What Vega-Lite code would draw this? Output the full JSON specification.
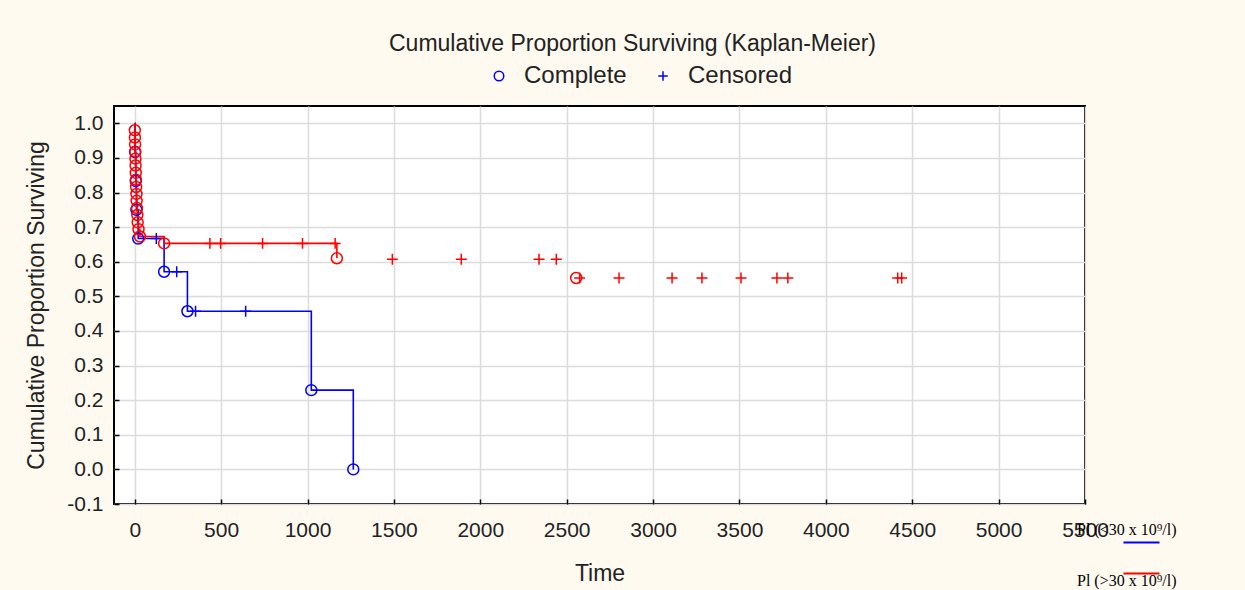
{
  "$schema": "https://vega.github.io/schema/vega-lite/v6.json",
  "width": 971,
  "height": 398,
  "autosize": "none",
  "padding": {"left": 114, "top": 106, "right": 160, "bottom": 86},
  "background": "#fffaf0",
  "config": {
    "font": "Liberation Sans",
    "view": {"stroke": "#000000", "strokeWidth": 2, "fill": "#ffffff"},
    "axis": {"domain": false, "grid": true, "gridColor": "#dcdcdc", "gridWidth": 1.5, "tickColor": "#000000", "tickSize": -5, "tickWidth": 1.5, "labelFont": "Liberation Sans", "labelFontSize": 21, "labelColor": "#222222", "titleFont": "Liberation Sans", "titleFontSize": 23, "titleFontWeight": "normal", "titleColor": "#222222"}
  },
  "title": {"text": "Cumulative Proportion Surviving (Kaplan-Meier)", "font": "Liberation Sans", "fontSize": 23, "fontWeight": "normal", "color": "#222222", "dx": 33, "offset": 8},
  "datasets": {
    "steps": [
      {"group": "Pl (<30 x 10⁹/l)", "time": 0, "surv": 1.0},
      {"group": "Pl (<30 x 10⁹/l)", "time": 2, "surv": 0.917},
      {"group": "Pl (<30 x 10⁹/l)", "time": 6, "surv": 0.833},
      {"group": "Pl (<30 x 10⁹/l)", "time": 10, "surv": 0.75},
      {"group": "Pl (<30 x 10⁹/l)", "time": 20, "surv": 0.667},
      {"group": "Pl (<30 x 10⁹/l)", "time": 170, "surv": 0.571},
      {"group": "Pl (<30 x 10⁹/l)", "time": 305, "surv": 0.457},
      {"group": "Pl (<30 x 10⁹/l)", "time": 1022, "surv": 0.229},
      {"group": "Pl (<30 x 10⁹/l)", "time": 1265, "surv": 0.0},
      {"group": "Pl (>30 x 10⁹/l)", "time": 0, "surv": 1.0},
      {"group": "Pl (>30 x 10⁹/l)", "time": 0.5, "surv": 0.98},
      {"group": "Pl (>30 x 10⁹/l)", "time": 1, "surv": 0.959},
      {"group": "Pl (>30 x 10⁹/l)", "time": 2, "surv": 0.939},
      {"group": "Pl (>30 x 10⁹/l)", "time": 3, "surv": 0.918},
      {"group": "Pl (>30 x 10⁹/l)", "time": 4, "surv": 0.898},
      {"group": "Pl (>30 x 10⁹/l)", "time": 5, "surv": 0.878},
      {"group": "Pl (>30 x 10⁹/l)", "time": 6, "surv": 0.857},
      {"group": "Pl (>30 x 10⁹/l)", "time": 7, "surv": 0.837},
      {"group": "Pl (>30 x 10⁹/l)", "time": 8, "surv": 0.816},
      {"group": "Pl (>30 x 10⁹/l)", "time": 10, "surv": 0.796},
      {"group": "Pl (>30 x 10⁹/l)", "time": 11, "surv": 0.776},
      {"group": "Pl (>30 x 10⁹/l)", "time": 13, "surv": 0.755},
      {"group": "Pl (>30 x 10⁹/l)", "time": 15, "surv": 0.735},
      {"group": "Pl (>30 x 10⁹/l)", "time": 17, "surv": 0.714},
      {"group": "Pl (>30 x 10⁹/l)", "time": 22, "surv": 0.694},
      {"group": "Pl (>30 x 10⁹/l)", "time": 30, "surv": 0.673},
      {"group": "Pl (>30 x 10⁹/l)", "time": 170, "surv": 0.653},
      {"group": "Pl (>30 x 10⁹/l)", "time": 1170, "surv": 0.61}
    ],
    "points": [
      {"group": "Pl (<30 x 10⁹/l)", "status": "Complete", "time": 2, "surv": 0.917},
      {"group": "Pl (<30 x 10⁹/l)", "status": "Complete", "time": 6, "surv": 0.833},
      {"group": "Pl (<30 x 10⁹/l)", "status": "Complete", "time": 10, "surv": 0.75},
      {"group": "Pl (<30 x 10⁹/l)", "status": "Complete", "time": 20, "surv": 0.667},
      {"group": "Pl (<30 x 10⁹/l)", "status": "Censored", "time": 125, "surv": 0.667},
      {"group": "Pl (<30 x 10⁹/l)", "status": "Complete", "time": 170, "surv": 0.571},
      {"group": "Pl (<30 x 10⁹/l)", "status": "Censored", "time": 243, "surv": 0.571},
      {"group": "Pl (<30 x 10⁹/l)", "status": "Complete", "time": 305, "surv": 0.457},
      {"group": "Pl (<30 x 10⁹/l)", "status": "Censored", "time": 352, "surv": 0.457},
      {"group": "Pl (<30 x 10⁹/l)", "status": "Censored", "time": 642, "surv": 0.457},
      {"group": "Pl (<30 x 10⁹/l)", "status": "Complete", "time": 1022, "surv": 0.229},
      {"group": "Pl (<30 x 10⁹/l)", "status": "Complete", "time": 1265, "surv": 0.0},
      {"group": "Pl (>30 x 10⁹/l)", "status": "Complete", "time": 0.5, "surv": 0.98},
      {"group": "Pl (>30 x 10⁹/l)", "status": "Complete", "time": 1, "surv": 0.959},
      {"group": "Pl (>30 x 10⁹/l)", "status": "Complete", "time": 2, "surv": 0.939},
      {"group": "Pl (>30 x 10⁹/l)", "status": "Complete", "time": 3, "surv": 0.918},
      {"group": "Pl (>30 x 10⁹/l)", "status": "Complete", "time": 4, "surv": 0.898},
      {"group": "Pl (>30 x 10⁹/l)", "status": "Complete", "time": 5, "surv": 0.878},
      {"group": "Pl (>30 x 10⁹/l)", "status": "Complete", "time": 6, "surv": 0.857},
      {"group": "Pl (>30 x 10⁹/l)", "status": "Complete", "time": 7, "surv": 0.837},
      {"group": "Pl (>30 x 10⁹/l)", "status": "Complete", "time": 8, "surv": 0.816},
      {"group": "Pl (>30 x 10⁹/l)", "status": "Complete", "time": 10, "surv": 0.796},
      {"group": "Pl (>30 x 10⁹/l)", "status": "Complete", "time": 11, "surv": 0.776},
      {"group": "Pl (>30 x 10⁹/l)", "status": "Complete", "time": 13, "surv": 0.755},
      {"group": "Pl (>30 x 10⁹/l)", "status": "Complete", "time": 15, "surv": 0.735},
      {"group": "Pl (>30 x 10⁹/l)", "status": "Complete", "time": 17, "surv": 0.714},
      {"group": "Pl (>30 x 10⁹/l)", "status": "Complete", "time": 22, "surv": 0.694},
      {"group": "Pl (>30 x 10⁹/l)", "status": "Complete", "time": 30, "surv": 0.673},
      {"group": "Pl (>30 x 10⁹/l)", "status": "Complete", "time": 170, "surv": 0.653},
      {"group": "Pl (>30 x 10⁹/l)", "status": "Censored", "time": 435, "surv": 0.653},
      {"group": "Pl (>30 x 10⁹/l)", "status": "Censored", "time": 497, "surv": 0.653},
      {"group": "Pl (>30 x 10⁹/l)", "status": "Censored", "time": 740, "surv": 0.653},
      {"group": "Pl (>30 x 10⁹/l)", "status": "Censored", "time": 971, "surv": 0.653},
      {"group": "Pl (>30 x 10⁹/l)", "status": "Censored", "time": 1160, "surv": 0.653},
      {"group": "Pl (>30 x 10⁹/l)", "status": "Complete", "time": 1170, "surv": 0.61},
      {"group": "Pl (>30 x 10⁹/l)", "status": "Censored", "time": 1491, "surv": 0.607},
      {"group": "Pl (>30 x 10⁹/l)", "status": "Censored", "time": 1890, "surv": 0.607},
      {"group": "Pl (>30 x 10⁹/l)", "status": "Censored", "time": 2340, "surv": 0.607},
      {"group": "Pl (>30 x 10⁹/l)", "status": "Censored", "time": 2440, "surv": 0.607},
      {"group": "Pl (>30 x 10⁹/l)", "status": "Complete", "time": 2555, "surv": 0.553},
      {"group": "Pl (>30 x 10⁹/l)", "status": "Censored", "time": 2575, "surv": 0.553},
      {"group": "Pl (>30 x 10⁹/l)", "status": "Censored", "time": 2803, "surv": 0.553},
      {"group": "Pl (>30 x 10⁹/l)", "status": "Censored", "time": 3110, "surv": 0.553},
      {"group": "Pl (>30 x 10⁹/l)", "status": "Censored", "time": 3283, "surv": 0.553},
      {"group": "Pl (>30 x 10⁹/l)", "status": "Censored", "time": 3509, "surv": 0.553},
      {"group": "Pl (>30 x 10⁹/l)", "status": "Censored", "time": 3717, "surv": 0.553},
      {"group": "Pl (>30 x 10⁹/l)", "status": "Censored", "time": 3780, "surv": 0.553},
      {"group": "Pl (>30 x 10⁹/l)", "status": "Censored", "time": 4416, "surv": 0.553},
      {"group": "Pl (>30 x 10⁹/l)", "status": "Censored", "time": 4439, "surv": 0.553}
    ]
  },
  "encoding": {
    "x": {"field": "time", "type": "quantitative", "title": "Time",
      "scale": {"domain": [-120, 5500], "nice": false, "zero": false},
      "axis": {"values": [0, 500, 1000, 1500, 2000, 2500, 3000, 3500, 4000, 4500, 5000, 5500], "format": "d", "labelPadding": 20, "titlePadding": 22, "labelFlush": false}},
    "y": {"field": "surv", "type": "quantitative", "title": "Cumulative Proportion Surviving",
      "scale": {"domain": [-0.1, 1.05], "nice": false, "zero": false},
      "axis": {"values": [-0.1, 0, 0.1, 0.2, 0.3, 0.4, 0.5, 0.6, 0.7, 0.8, 0.9, 1.0], "format": ".1f", "labelExpr": "replace(datum.label, '−', '-')", "labelPadding": 16, "titlePadding": 18, "labelFlush": false}}
  },
  "layer": [
    {
      "data": {"name": "steps"},
      "mark": {"type": "line", "interpolate": "step-after", "strokeWidth": 1.6},
      "encoding": {
        "stroke": {"field": "group", "type": "nominal", "title": null,
          "scale": {"range": ["#0000ff", "#ff0000"]},
          "legend": {"orient": "none", "legendX": 1008, "legendY": 417, "symbolType": "stroke", "symbolSize": 1300, "symbolStrokeWidth": 2, "labelExpr": "''", "labelOffset": 0, "rowPadding": 6, "padding": 0}}
      }
    },
    {
      "data": {"name": "points"},
      "mark": {"type": "point", "filled": false, "strokeWidth": 1.5, "size": 120, "opacity": 1},
      "encoding": {
        "color": {"field": "group", "type": "nominal", "title": null,
          "scale": {"range": ["#0000ff", "#ff0000"]},
          "legend": {"orient": "none", "legendX": 947, "legendY": 416, "symbolOpacity": 0, "symbolSize": 1, "labelOffset": 0, "labelFont": "Liberation Serif", "labelFontSize": 16, "labelColor": "#000000", "rowPadding": 35, "padding": 0}},
        "shape": {"field": "status", "type": "nominal", "title": null,
          "scale": {"domain": ["Complete", "Censored"], "range": ["circle", "M-1,0H1M0,-1V1"]},
          "legend": {"orient": "none", "direction": "horizontal", "legendX": 373, "legendY": -42, "symbolStrokeColor": "#0000ff", "symbolFillColor": "transparent", "symbolStrokeWidth": 1.5, "symbolSize": 90, "labelFont": "Liberation Sans", "labelFontSize": 24, "labelColor": "#222222", "labelOffset": 13, "columnPadding": 24, "padding": 0}}
      }
    }
  ]
}
